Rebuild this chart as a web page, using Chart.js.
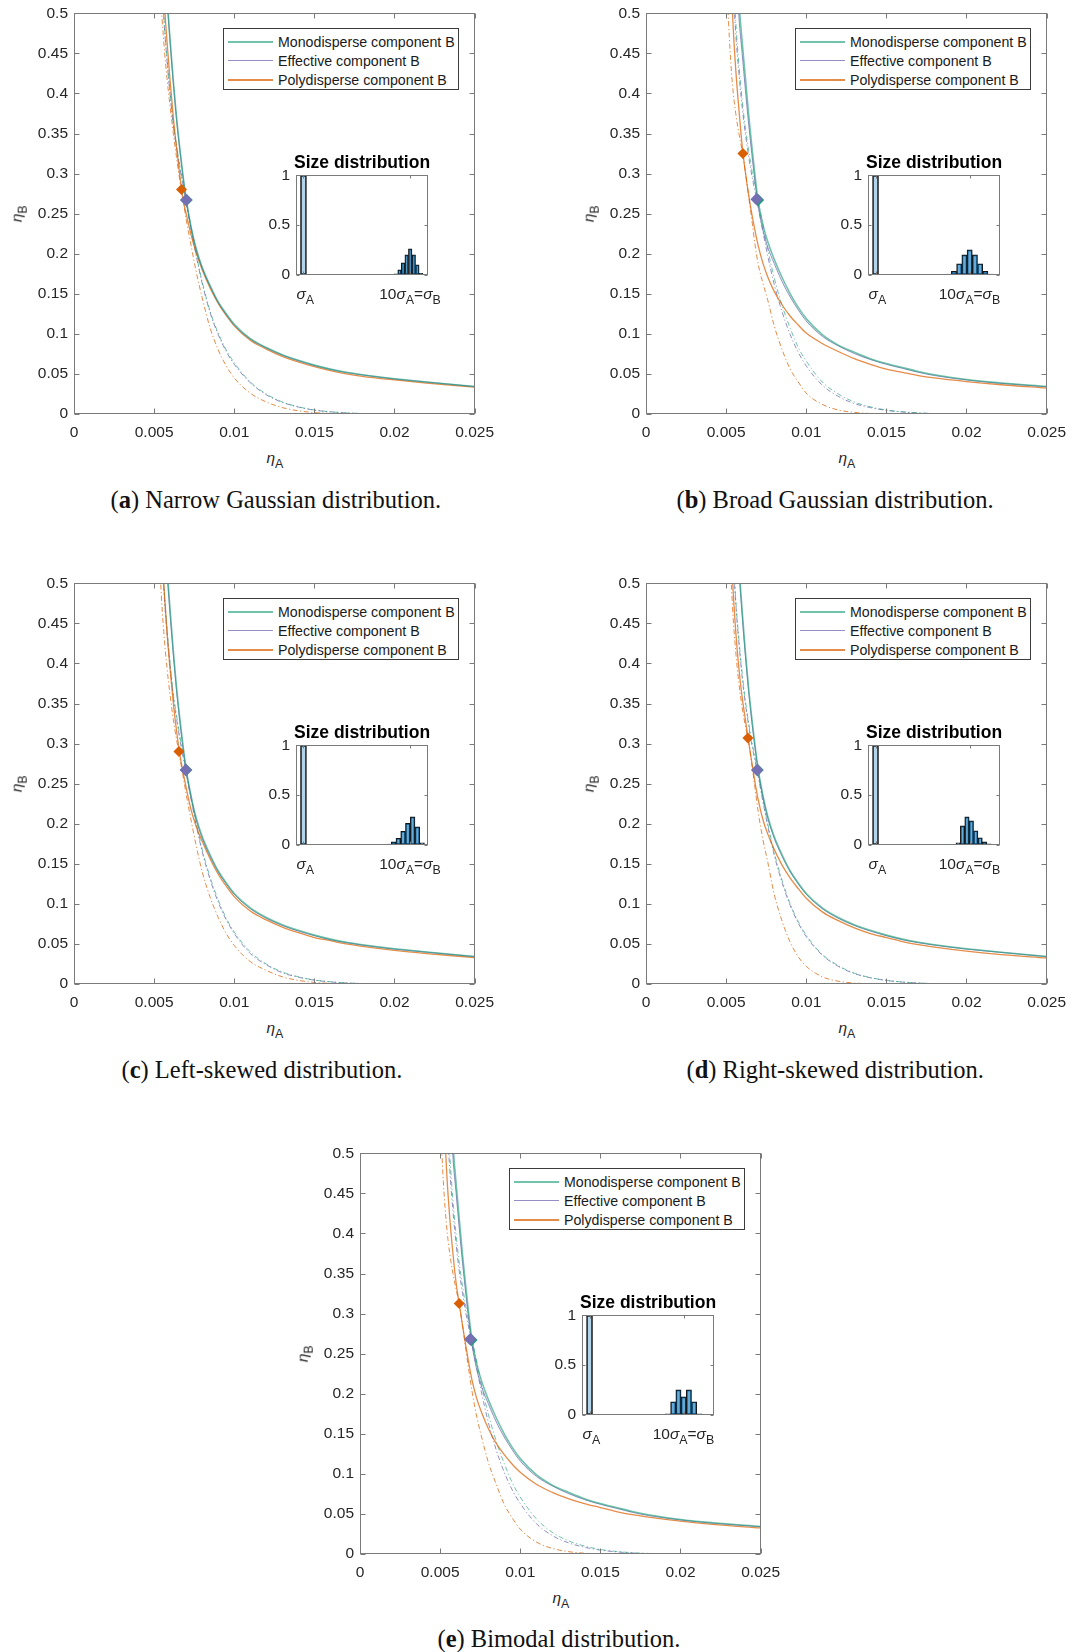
<!DOCTYPE html>
<html>
<head>
<meta charset="utf-8">
<script src="https://cdn.jsdelivr.net/npm/chart.js@4.4.1/dist/chart.umd.min.js"></script>
<style>
  html, body { margin:0; padding:0; background:#fff; }
  body { width:1072px; height:1652px; position:relative; overflow:hidden; font-family:"Liberation Sans", Arial, sans-serif; color:#262626; }
  canvas { position:absolute; }
  .t { position:absolute; white-space:nowrap; line-height:1; }
  .legend { position:absolute; background:#fff; border:1px solid #3c3c3c; box-sizing:border-box; }
  .lline { position:absolute; left:4px; width:45px; }
  .ltext { position:absolute; left:54px; font-size:14.2px; line-height:16px; color:#1a1a1a; white-space:nowrap; }
  .cap { position:absolute; font-family:"Liberation Serif", "Times New Roman", serif; font-size:24.5px; white-space:nowrap; color:#111; line-height:24px; }
  .sub { font-size:0.8em; position:relative; top:0.38em; }
  .gr { font-style:italic; }
</style>
</head>
<body>
<script>
// ---------------- DATA ----------------
const etaA = [0.0050,0.0052,0.0054,0.0056,0.0058,0.0060,0.0062,0.0064,0.0066,0.0068,0.0070,0.0073,0.0076,0.0080,0.0085,0.0090,0.0095,0.0100,0.0110,0.0120,0.0130,0.0140,0.0150,0.0160,0.0170,0.0180,0.0200,0.0220,0.0250];
const ticksX = [0, 0.005, 0.01, 0.015, 0.02, 0.025];
const ticksY = [0, 0.05, 0.1, 0.15, 0.2, 0.25, 0.3, 0.35, 0.4, 0.45, 0.5];
const insetTicksY = [0, 0.5, 1];
const insetTicksX = [1, 10];
const legendLabels = ["Monodisperse component B", "Effective component B", "Polydisperse component B"];
const captions = ["Narrow Gaussian distribution.", "Broad Gaussian distribution.", "Left-skewed distribution.", "Right-skewed distribution.", "Bimodal distribution."];
const captionLetters = ["a", "b", "c", "d", "e"];

// (a) narrow Gaussian
const a_mono_bin = [1.10,0.90,0.74,0.61,0.525,0.466,0.415,0.370,0.332,0.298,0.268,0.234,0.208,0.183,0.160,0.140,0.125,0.112,0.094,0.083,0.074,0.067,0.061,0.056,0.052,0.049,0.044,0.040,0.0344];
const a_eff_bin  = [1.08,0.89,0.73,0.605,0.521,0.463,0.412,0.367,0.330,0.296,0.267,0.233,0.207,0.182,0.159,0.139,0.124,0.111,0.0935,0.0825,0.0735,0.0665,0.0605,0.0557,0.0517,0.0487,0.0437,0.0398,0.0342];
const a_poly_bin = [0.85,0.72,0.61,0.525,0.466,0.415,0.370,0.332,0.298,0.268,0.250,0.224,0.203,0.180,0.157,0.138,0.123,0.110,0.092,0.081,0.072,0.065,0.059,0.054,0.050,0.047,0.0425,0.0385,0.0335];
const a_mono_sp  = [0.90,0.74,0.60,0.50,0.445,0.400,0.362,0.335,0.310,0.288,0.266,0.233,0.202,0.165,0.128,0.101,0.080,0.064,0.040,0.025,0.015,0.009,0.005,0.0028,0.0014,0.0006,0,null,null];
const a_eff_sp   = [0.89,0.73,0.595,0.497,0.442,0.398,0.360,0.333,0.308,0.286,0.264,0.231,0.200,0.163,0.126,0.099,0.078,0.062,0.039,0.024,0.0145,0.0087,0.0048,0.0027,0.0013,0.0006,0,null,null];
const a_poly_sp  = [0.80,0.66,0.53,0.465,0.42,0.383,0.350,0.320,0.292,0.268,0.243,0.211,0.180,0.145,0.107,0.080,0.060,0.045,0.026,0.015,0.008,0.004,0.0018,0.0007,0.0002,0,0,null,null];
const a_crit_x = [0.00702, 0.00700, 0.00671];
const a_crit_y = [0.267, 0.267, 0.280];
const a_hist_sigma = [8.8, 9.1, 9.4, 9.7, 10.0, 10.3, 10.6, 10.9];
const a_hist_freq  = [0.01, 0.05, 0.12, 0.20, 0.26, 0.20, 0.10, 0.015];

// (b) broad Gaussian
const b_mono_bin = [1.10,0.88,0.72,0.60,0.515,0.465,0.42,0.375,0.335,0.298,0.266,0.236,0.215,0.193,0.17,0.15,0.133,0.119,0.099,0.086,0.077,0.069,0.063,0.058,0.053,0.049,0.043,0.039,0.0344];
const b_eff_bin  = [1.0,0.83,0.68,0.57,0.495,0.45,0.405,0.363,0.325,0.29,0.26,0.229,0.208,0.188,0.165,0.146,0.13,0.116,0.097,0.085,0.0755,0.068,0.062,0.057,0.052,0.048,0.0425,0.0385,0.034];
const b_poly_bin = [0.78,0.62,0.50,0.43,0.38,0.335,0.302,0.274,0.25,0.229,0.21,0.188,0.171,0.153,0.136,0.122,0.111,0.101,0.088,0.078,0.069,0.062,0.056,0.052,0.048,0.045,0.0405,0.0368,0.0324];
const b_mono_sp  = [0.85,0.70,0.57,0.49,0.435,0.392,0.357,0.33,0.305,0.285,0.265,0.235,0.205,0.17,0.135,0.107,0.083,0.066,0.040,0.025,0.015,0.009,0.005,0.0028,0.0014,0.0006,0,null,null];
const b_eff_sp   = [0.82,0.67,0.55,0.475,0.425,0.383,0.35,0.322,0.298,0.278,0.258,0.227,0.197,0.162,0.127,0.099,0.077,0.06,0.036,0.022,0.013,0.008,0.0045,0.0025,0.0012,0.0005,0,null,null];
const b_poly_sp  = [0.56,0.47,0.41,0.375,0.35,0.328,0.302,0.273,0.243,0.212,0.187,0.163,0.142,0.11,0.08,0.056,0.04,0.026,0.012,0.005,0.002,0.0006,0.0001,0,0,0,0,null,null];
const b_crit_x = [0.00699, 0.00690, 0.00605];
const b_crit_y = [0.267, 0.268, 0.325];
const b_hist_sigma = [8, 8.5, 9, 9.5, 10, 10.5, 11, 11.5, 12];
const b_hist_freq  = [0.005, 0.035, 0.11, 0.20, 0.25, 0.20, 0.11, 0.035, 0.005];

// (c) left-skewed
const c_mono_bin = [1.10,0.90,0.74,0.61,0.525,0.466,0.415,0.370,0.332,0.298,0.268,0.235,0.209,0.184,0.161,0.141,0.126,0.113,0.095,0.083,0.074,0.067,0.061,0.056,0.052,0.049,0.044,0.040,0.0344];
const c_eff_bin  = [1.08,0.88,0.725,0.60,0.518,0.46,0.41,0.366,0.328,0.295,0.266,0.233,0.207,0.182,0.159,0.14,0.125,0.112,0.094,0.082,0.073,0.066,0.0603,0.0553,0.0515,0.0485,0.0435,0.0397,0.0341];
const c_poly_bin = [0.82,0.68,0.575,0.50,0.44,0.392,0.35,0.316,0.287,0.265,0.245,0.218,0.198,0.178,0.156,0.137,0.122,0.109,0.091,0.080,0.071,0.064,0.058,0.054,0.050,0.047,0.042,0.038,0.033];
const c_mono_sp  = [0.88,0.72,0.59,0.50,0.445,0.40,0.362,0.335,0.31,0.288,0.266,0.234,0.204,0.168,0.133,0.105,0.082,0.065,0.040,0.025,0.015,0.009,0.005,0.0028,0.0014,0.0006,0,null,null];
const c_eff_sp   = [0.86,0.71,0.58,0.495,0.44,0.396,0.358,0.331,0.306,0.284,0.263,0.231,0.201,0.165,0.13,0.102,0.08,0.063,0.038,0.024,0.014,0.0085,0.0048,0.0026,0.0013,0.0005,0,null,null];
const c_poly_sp  = [0.75,0.62,0.505,0.44,0.395,0.36,0.33,0.305,0.283,0.26,0.237,0.205,0.175,0.14,0.108,0.083,0.063,0.048,0.028,0.017,0.009,0.0045,0.002,0.0008,0.0002,0,0,null,null];
const c_crit_x = [0.00700, 0.00698, 0.00655];
const c_crit_y = [0.267, 0.267, 0.290];
const c_hist_sigma = [8.2, 8.6, 9.0, 9.4, 9.8, 10.2, 10.6, 11.0];
const c_hist_freq  = [0.005, 0.03, 0.065, 0.135, 0.215, 0.28, 0.18, 0.02];

// (d) right-skewed
const d_mono_bin = [1.10,0.90,0.74,0.61,0.525,0.466,0.415,0.370,0.332,0.298,0.268,0.235,0.209,0.184,0.161,0.141,0.126,0.113,0.095,0.083,0.074,0.067,0.061,0.056,0.052,0.049,0.044,0.040,0.0344];
const d_eff_bin  = [1.08,0.88,0.725,0.60,0.518,0.46,0.41,0.366,0.328,0.295,0.266,0.233,0.207,0.182,0.159,0.14,0.125,0.112,0.094,0.082,0.073,0.066,0.0603,0.0553,0.0515,0.0485,0.0435,0.0397,0.0341];
const d_poly_bin = [0.74,0.60,0.505,0.44,0.393,0.358,0.33,0.303,0.277,0.252,0.23,0.205,0.187,0.168,0.148,0.132,0.119,0.107,0.09,0.079,0.07,0.063,0.058,0.053,0.049,0.046,0.041,0.037,0.0325];
const d_mono_sp  = [0.84,0.69,0.56,0.48,0.43,0.388,0.354,0.327,0.303,0.283,0.263,0.23,0.2,0.164,0.129,0.1,0.078,0.061,0.037,0.023,0.0135,0.008,0.0046,0.0025,0.0012,0.0005,0,null,null];
const d_eff_sp   = [0.82,0.67,0.55,0.475,0.425,0.383,0.35,0.323,0.299,0.279,0.259,0.227,0.197,0.161,0.126,0.098,0.076,0.059,0.036,0.022,0.013,0.0078,0.0044,0.0024,0.0012,0.0005,0,null,null];
const d_poly_sp  = [0.68,0.56,0.47,0.415,0.375,0.345,0.322,0.302,0.275,0.245,0.215,0.18,0.152,0.112,0.078,0.052,0.034,0.022,0.009,0.0035,0.0012,0.0003,0,0,0,0,0,null,null];
const d_crit_x = [0.00696, 0.00694, 0.00636];
const d_crit_y = [0.267, 0.267, 0.307];
const d_hist_sigma = [8.9, 9.32, 9.74, 10.16, 10.58, 11.0, 11.42, 11.84, 12.26];
const d_hist_freq  = [0.02, 0.19, 0.28, 0.24, 0.14, 0.07, 0.03, 0.01, 0.004];

// (e) bimodal
const e_mono_bin = [1.10,0.88,0.72,0.60,0.512,0.462,0.417,0.373,0.334,0.297,0.266,0.236,0.215,0.193,0.17,0.15,0.133,0.119,0.099,0.086,0.077,0.069,0.063,0.058,0.053,0.049,0.043,0.039,0.0344];
const e_eff_bin  = [1.0,0.83,0.68,0.57,0.495,0.45,0.405,0.363,0.325,0.29,0.26,0.229,0.208,0.188,0.165,0.146,0.13,0.116,0.097,0.085,0.0755,0.068,0.062,0.057,0.052,0.048,0.0425,0.0385,0.034];
const e_poly_bin = [0.72,0.575,0.48,0.42,0.375,0.338,0.311,0.285,0.26,0.237,0.216,0.193,0.176,0.157,0.138,0.124,0.112,0.102,0.087,0.077,0.069,0.063,0.058,0.053,0.049,0.046,0.041,0.037,0.0325];
const e_mono_sp  = [0.87,0.72,0.585,0.50,0.442,0.398,0.362,0.334,0.309,0.288,0.267,0.238,0.209,0.175,0.141,0.113,0.089,0.071,0.044,0.027,0.0165,0.01,0.0057,0.0032,0.0016,0.0007,0,null,null];
const e_eff_sp   = [0.83,0.68,0.555,0.48,0.428,0.386,0.352,0.325,0.301,0.281,0.261,0.23,0.2,0.165,0.13,0.102,0.08,0.063,0.038,0.023,0.014,0.0085,0.0048,0.0027,0.0013,0.0005,0,null,null];
const e_poly_sp  = [0.55,0.465,0.41,0.375,0.35,0.33,0.311,0.285,0.256,0.228,0.202,0.17,0.145,0.115,0.087,0.062,0.045,0.031,0.015,0.007,0.003,0.001,0.0003,0,0,0,0,null,null];
const e_crit_x = [0.00695, 0.00688, 0.00619];
const e_crit_y = [0.267, 0.268, 0.3125];
const e_hist_sigma = [8.5, 9.0, 9.5, 10.0, 10.5, 11.0, 11.5];
const e_hist_freq  = [0.01, 0.13, 0.25, 0.18, 0.25, 0.13, 0.01];

// ---------------- STYLE / LAYOUT ----------------
const lineColors = ['rgba(27,158,119,0.62)', 'rgba(117,112,179,0.78)', 'rgba(217,95,2,0.72)'];
const markerColors = ['#1b9e77', '#7570b3', '#d95f02'];
const lineWidths = [1.6, 1.0, 1.3];
const dashPattern = [5, 2.5, 1.2, 2.5];
const axisColor = '#7a7a7a';
const tickFont = { family: 'Liberation Sans', size: 15.5 };

const panels = [
  { L: 74,  T: 13,   bin: [a_mono_bin, a_eff_bin, a_poly_bin], sp: [a_mono_sp, a_eff_sp, a_poly_sp], cx: a_crit_x, cy: a_crit_y, hs: a_hist_sigma, hf: a_hist_freq, hmin: 0.37, hmax: 11.5, capX: 276, capY: 500 },
  { L: 646, T: 13,   bin: [b_mono_bin, b_eff_bin, b_poly_bin], sp: [b_mono_sp, b_eff_sp, b_poly_sp], cx: b_crit_x, cy: b_crit_y, hs: b_hist_sigma, hf: b_hist_freq, hmin: 0.28, hmax: 12.9, capX: 835, capY: 500 },
  { L: 74,  T: 583,  bin: [c_mono_bin, c_eff_bin, c_poly_bin], sp: [c_mono_sp, c_eff_sp, c_poly_sp], cx: c_crit_x, cy: c_crit_y, hs: c_hist_sigma, hf: c_hist_freq, hmin: 0.37, hmax: 11.5, capX: 262, capY: 1070 },
  { L: 646, T: 583,  bin: [d_mono_bin, d_eff_bin, d_poly_bin], sp: [d_mono_sp, d_eff_sp, d_poly_sp], cx: d_crit_x, cy: d_crit_y, hs: d_hist_sigma, hf: d_hist_freq, hmin: 0.28, hmax: 12.9, capX: 835, capY: 1070 },
  { L: 360, T: 1153, bin: [e_mono_bin, e_eff_bin, e_poly_bin], sp: [e_mono_sp, e_eff_sp, e_poly_sp], cx: e_crit_x, cy: e_crit_y, hs: e_hist_sigma, hf: e_hist_freq, hmin: 0.28, hmax: 12.9, capX: 559, capY: 1639 }
];

Chart.defaults.font.family = 'Liberation Sans';
Chart.defaults.color = '#262626';

function pts(ys) {
  return etaA.map((x, i) => ({ x: x, y: ys[i] })).filter(p => p.y !== null);
}
function fmt(v) { return String(parseFloat(Number(v).toFixed(4))); }

function boxPlugin(xt, yt, len, fillBg) {
  return {
    id: 'mbox',
    beforeDatasetsDraw(chart) {
      if (!fillBg) return;
      const a = chart.chartArea, ctx = chart.ctx;
      ctx.save(); ctx.fillStyle = '#fff'; ctx.fillRect(a.left, a.top, a.right - a.left, a.bottom - a.top); ctx.restore();
    },
    afterDraw(chart) {
      const ctx = chart.ctx, a = chart.chartArea, x = chart.scales.x, y = chart.scales.y;
      ctx.save();
      ctx.strokeStyle = axisColor; ctx.lineWidth = 1;
      const l = Math.round(a.left) + 0.5, r = Math.round(a.right) - 0.5, t = Math.round(a.top) + 0.5, b = Math.round(a.bottom) - 0.5;
      ctx.strokeRect(l, t, r - l, b - t);
      ctx.beginPath();
      xt.forEach(v => { const px = Math.round(x.getPixelForValue(v)) + 0.5; ctx.moveTo(px, b); ctx.lineTo(px, b - len); ctx.moveTo(px, t); ctx.lineTo(px, t + len); });
      yt.forEach(v => { const py = Math.round(y.getPixelForValue(v)) + 0.5; ctx.moveTo(l, py); ctx.lineTo(l + len, py); ctx.moveTo(r, py); ctx.lineTo(r - len, py); });
      ctx.stroke();
      ctx.restore();
    }
  };
}

function addText(html, cx, cy, style, rotate) {
  const d = document.createElement('div');
  d.className = 't';
  d.innerHTML = html;
  Object.assign(d.style, style || {});
  document.body.appendChild(d);
  const w = d.offsetWidth, h = d.offsetHeight;
  d.style.left = (cx - w / 2) + 'px';
  d.style.top = (cy - h / 2) + 'px';
  if (rotate) d.style.transform = 'rotate(' + rotate + 'deg)';
  return d;
}

function makeCanvas(w, h) {
  const cv = document.createElement('canvas');
  cv.width = w; cv.height = h;
  cv.style.left = '0px'; cv.style.top = '0px';
  cv.style.width = w + 'px'; cv.style.height = h + 'px';
  document.body.appendChild(cv);
  return cv;
}

// Build a chart whose plotting area is exactly Sw x Sh and sits at (dL, dT) on the page.
function buildFitted(cfgFn, dL, dT, Sw, Sh, pad) {
  let w = pad.l + Sw + pad.r, h = pad.t + Sh + pad.b;
  let cv, ch;
  for (let it = 0; it < 4; it++) {
    cv = makeCanvas(Math.round(w), Math.round(h));
    ch = new Chart(cv, cfgFn());
    const a = ch.chartArea;
    const dw = Sw - (a.right - a.left), dh = Sh - (a.bottom - a.top);
    if ((Math.abs(dw) < 0.5 && Math.abs(dh) < 0.5) || it === 3) break;
    ch.destroy(); cv.remove();
    w += dw; h += dh;
  }
  const a = ch.chartArea;
  const offX = dL - a.left, offY = dT - a.top;
  cv.style.left = offX + 'px'; cv.style.top = offY + 'px';
  return { ch: ch, offX: offX, offY: offY };
}

function mainChart(p) {
  const S = 401, pad = { l: 70, t: 12, r: 24, b: 30 };
  const cfgFn = () => {
    const ds = [];
    [2, 1, 0].forEach(k => {
      ds.push({ data: [{ x: p.cx[k], y: p.cy[k] }], showLine: false, pointStyle: 'rectRot',
        pointRadius: k === 2 ? 5.5 : 6.2, pointBackgroundColor: markerColors[k], pointBorderColor: markerColors[k], pointBorderWidth: 0 });
    });
    [0, 1, 2].forEach(k => {
      ds.push({ data: pts(p.bin[k]), borderColor: lineColors[k], borderWidth: lineWidths[k], pointRadius: 0, fill: false, cubicInterpolationMode: 'monotone' });
    });
    [0, 1, 2].forEach(k => {
      ds.push({ data: pts(p.sp[k]), borderColor: lineColors[k], borderWidth: 1.0, borderDash: dashPattern, pointRadius: 0, fill: false, cubicInterpolationMode: 'monotone' });
    });
    return {
      type: 'line',
      data: { datasets: ds },
      options: {
        responsive: false, maintainAspectRatio: false, animation: false, devicePixelRatio: 1,
        events: [],
        layout: { padding: { left: 0, top: pad.t, right: pad.r, bottom: 0 }, autoPadding: false },
        plugins: { legend: { display: false }, tooltip: { enabled: false } },
        scales: {
          x: { type: 'linear', min: 0, max: 0.025,
            afterBuildTicks: s => { s.ticks = ticksX.map(v => ({ value: v })); },
            afterFit: s => { s.height = pad.b; },
            grid: { display: false, drawTicks: false, tickLength: 0 }, border: { display: false },
            ticks: { padding: 9, color: '#262626', font: tickFont, callback: v => fmt(v), maxRotation: 0, autoSkip: false } },
          y: { type: 'linear', min: 0, max: 0.5,
            afterBuildTicks: s => { s.ticks = ticksY.map(v => ({ value: v })); },
            afterFit: s => { s.width = pad.l; },
            grid: { display: false, drawTicks: false, tickLength: 0 }, border: { display: false },
            ticks: { padding: 6, color: '#262626', font: tickFont, callback: v => fmt(v), autoSkip: false } }
        }
      },
      plugins: [boxPlugin(ticksX, ticksY, 5, false)]
    };
  };
  buildFitted(cfgFn, p.L, p.T, S, S, pad);

  // axis titles
  addText('<span class="gr">&eta;</span><span class="sub">A</span>', p.L + 201, p.T + 445, { fontSize: '15.5px', color: '#262626' });
  addText('<span class="gr">&eta;</span><span class="sub">B</span>', p.L - 58, p.T + 201, { fontSize: '15.5px', color: '#262626' }, -90);

  // legend
  const lg = document.createElement('div');
  lg.className = 'legend';
  Object.assign(lg.style, { left: (p.L + 149) + 'px', top: (p.T + 15) + 'px', width: '236px', height: '62px' });
  const rowsY = [12.5, 31.5, 51];
  legendLabels.forEach((lab, k) => {
    const ln = document.createElement('div');
    ln.className = 'lline';
    const lw = k === 0 ? 2 : (k === 1 ? 1 : 1.5);
    Object.assign(ln.style, { top: (rowsY[k] - lw / 2) + 'px', height: lw + 'px', background: lineColors[k] });
    lg.appendChild(ln);
    const tx = document.createElement('div');
    tx.className = 'ltext';
    tx.style.top = (rowsY[k] - 8) + 'px';
    tx.textContent = lab;
    lg.appendChild(tx);
  });
  document.body.appendChild(lg);
}

function insetChart(p) {
  const W = 132, H = 99, pad = { l: 40, t: 10, r: 8, b: 10 };
  const cfgFn = () => ({
    type: 'bar',
    data: { datasets: [
      { data: p.hs.map((s, i) => ({ x: s, y: p.hf[i] })), backgroundColor: 'rgba(0,114,189,0.6)', borderColor: '#151515', borderWidth: 1, borderSkipped: false, barPercentage: 1, categoryPercentage: 1, grouped: false },
      { data: [{ x: 1, y: 1 }], backgroundColor: 'rgba(0,114,189,0.3)', borderColor: '#151515', borderWidth: 1, borderSkipped: false, barThickness: 6, grouped: false }
    ] },
    options: {
      responsive: false, maintainAspectRatio: false, animation: false, devicePixelRatio: 1, events: [],
      layout: { padding: { left: 0, top: pad.t, right: pad.r, bottom: pad.b }, autoPadding: false },
      plugins: { legend: { display: false }, tooltip: { enabled: false } },
      scales: {
        x: { type: 'linear', min: p.hmin, max: p.hmax, display: false, offset: false },
        y: { min: 0, max: 1,
          afterBuildTicks: s => { s.ticks = insetTicksY.map(v => ({ value: v })); },
          afterFit: s => { s.width = pad.l; },
          grid: { display: false, drawTicks: false, tickLength: 0 }, border: { display: false },
          ticks: { padding: 6, color: '#262626', font: tickFont, callback: v => fmt(v) } }
      }
    },
    plugins: [boxPlugin(insetTicksX, insetTicksY, 3, true)]
  });
  const r = buildFitted(cfgFn, p.L + 222, p.T + 162, W, H, pad);
  addText('Size distribution', p.L + 288, p.T + 150, { fontSize: '17.5px', fontWeight: 'bold', color: '#000' });
  const x1 = r.offX + r.ch.scales.x.getPixelForValue(insetTicksX[0]);
  const x10 = r.offX + r.ch.scales.x.getPixelForValue(insetTicksX[1]);
  addText('<span class="gr">&sigma;</span><span class="sub">A</span>', x1 + 2, p.T + 281, { fontSize: '15.5px', color: '#262626' });
  addText('10<span class="gr">&sigma;</span><span class="sub">A</span>=<span class="gr">&sigma;</span><span class="sub">B</span>', x10, p.T + 281, { fontSize: '15.5px', color: '#262626' });
}

function caption(p, i) {
  const d = document.createElement('div');
  d.className = 'cap';
  d.innerHTML = '(<b>' + captionLetters[i] + '</b>) ' + captions[i];
  document.body.appendChild(d);
  const w = d.offsetWidth;
  d.style.left = (p.capX - w / 2) + 'px';
  d.style.top = (p.capY - 12) + 'px';
}

panels.forEach((p, i) => { mainChart(p); insetChart(p); caption(p, i); });
</script>
</body>
</html>
